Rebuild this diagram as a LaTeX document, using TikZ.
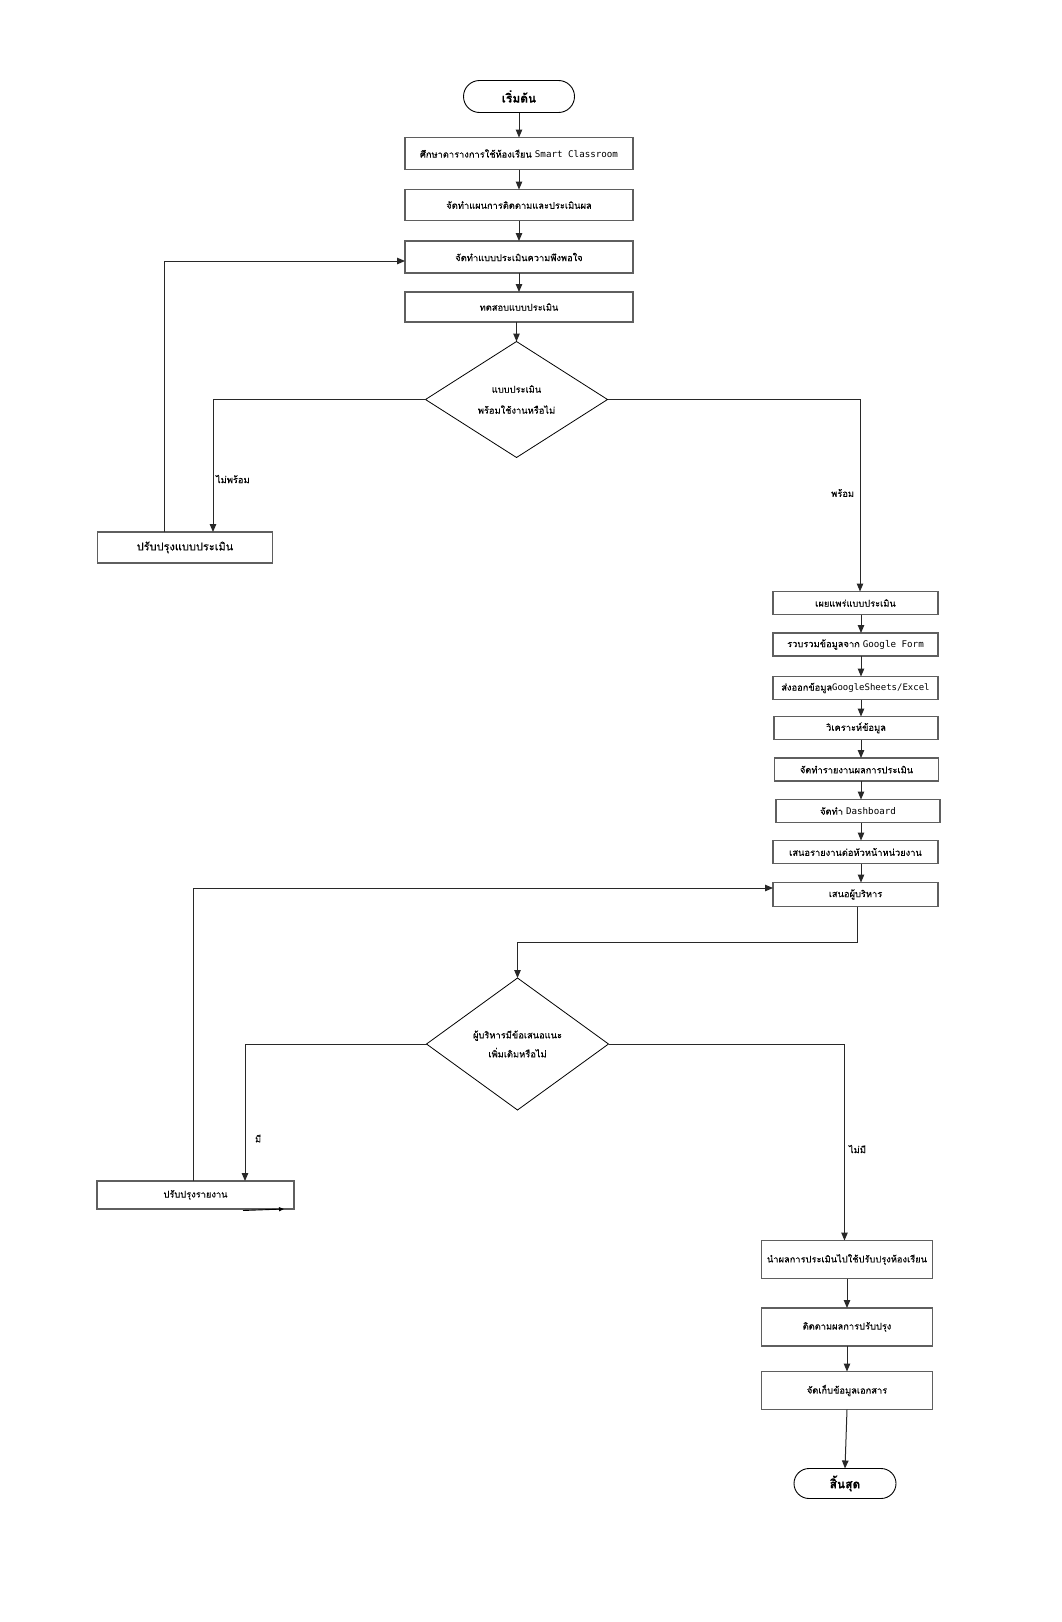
\documentclass[tikz,border=0pt]{standalone}
\usepackage{fontspec}
\setmainfont[Script=Thai,FakeBold=0.12]{Loma}
\newfontfamily\mono{DejaVu Sans Mono}
\usetikzlibrary{shapes.geometric,shapes.misc,arrows.meta}
\definecolor{boxgray}{RGB}{95,95,95}
\definecolor{linegray}{RGB}{40,40,40}
\newcommand{\fs}{\fontsize{9.3pt}{11pt}\selectfont}
\begin{document}
\begin{tikzpicture}[x=1pt,y=-1pt,
  every node/.style={inner sep=0pt,outer sep=0pt},
  pbox/.style n args={2}{draw=boxgray,line width=1.3pt,rectangle,minimum width=#1,minimum height=#2,font=\fs,text=black},
  term/.style n args={2}{draw=black,line width=0.9pt,rounded rectangle,minimum width=#1,minimum height=#2,font=\fontsize{12pt}{14pt}\selectfont\bfseries},
  dec/.style n args={2}{draw=black,line width=0.8pt,diamond,aspect=1.56,minimum width=#1,minimum height=#2,align=center},
  lbl/.style={font=\fs},
  arr/.style={draw=linegray,line width=1pt,-{Triangle[length=8pt,width=6.5pt]}}
]
\fill[white] (0,0) rectangle (1062,1622);
\useasboundingbox (0,0) rectangle (1062,1622);

% top column
\node[term={111}{32}] (start) at (519,96.5) {เริ่มต้น};
\node[pbox={228}{32}] (b1) at (519,153.5) {ศึกษาตารางการใช้ห้องเรียน {\mono\fontsize{9.2pt}{11pt}\selectfont Smart Classroom}};
\node[pbox={228}{31}] (b2) at (519,205) {จัดทำแผนการติดตามและประเมินผล};
\node[pbox={228}{32}] (b3) at (519,257) {จัดทำแบบประเมินความพึงพอใจ};
\node[pbox={228}{30}] (b4) at (519,307) {ทดสอบแบบประเมิน};
\node[dec={182}{116}, font=\fontsize{9.3pt}{21pt}\selectfont] (d1) at (516.5,399.5) {แบบประเมิน\\พร้อมใช้งานหรือไม่};

% left branch 1
\node[pbox={175}{31}, font=\fontsize{11pt}{13pt}\selectfont] (fix1) at (185,547.5) {ปรับปรุงแบบประเมิน};
\coordinate (L1) at (213,399.5);
\coordinate (L2) at (164,261);
\node[lbl,anchor=west] (lab1) at (216,479) {ไม่พร้อม};

% right column
\coordinate (R1) at (860,399.5);
\node[lbl,anchor=east] (lab2) at (854,493) {พร้อม};
\node[pbox={165}{23}] (r1) at (855.5,603) {เผยแพร่แบบประเมิน};
\node[pbox={165}{23}] (r2) at (855.5,644.5) {รวบรวมข้อมูลจาก {\mono\fontsize{9.2pt}{11pt}\selectfont Google Form}};
\node[pbox={165}{23}] (r3) at (855.5,688) {ส่งออกข้อมูล{\mono\fontsize{9pt}{11pt}\selectfont GoogleSheets/Excel}};
\node[pbox={164}{23}] (r4) at (856,728) {วิเคราะห์ข้อมูล};
\node[pbox={164}{23}] (r5) at (856.5,769.5) {จัดทำรายงานผลการประเมิน};
\node[pbox={164}{23}] (r6) at (858,811) {จัดทำ {\mono\fontsize{9.2pt}{11pt}\selectfont Dashboard}};
\node[pbox={165}{23}] (r7) at (855.5,852) {เสนอรายงานต่อหัวหน้าหน่วยงาน};
\node[pbox={165}{24}] (r8) at (855.5,894.5) {เสนอผู้บริหาร};
\coordinate (RX) at (861,0);

% second decision
\coordinate (M1) at (857,942);
\node[dec={182}{132}, font=\fontsize{9.3pt}{19pt}\selectfont] (d2) at (517.5,1044) {ผู้บริหารมีข้อเสนอแนะ\\เพิ่มเติมหรือไม่};
\node[pbox={197}{28}] (fix2) at (195.5,1195) {ปรับปรุงรายงาน};
\coordinate (L3) at (245,1044);
\coordinate (L4) at (193.5,888);
\node[lbl,anchor=west] (lab3) at (255,1138.5) {มี};
\coordinate (R2) at (844.5,1044);
\node[lbl,anchor=west] (lab4) at (849,1149) {ไม่มี};

% bottom column
\node[pbox={171}{38}] (f1) at (847,1259.5) {นำผลการประเมินไปใช้ปรับปรุงห้องเรียน};
\node[pbox={171}{38}] (f2) at (847,1327) {ติดตามผลการปรับปรุง};
\node[pbox={171}{38}] (f3) at (847,1390.5) {จัดเก็บข้อมูลเอกสาร};
\node[term={102}{30}] (stop) at (845,1483.5) {สิ้นสุด};

% connectors
\draw[arr] (start.south -| b1.north) -- (b1.north);
\draw[arr] (b1.south) -- (b2.north);
\draw[arr] (b2.south) -- (b3.north);
\draw[arr] (b3.south) -- (b4.north);
\draw[arr] (b4.south -| d1.north) -- (d1.north);
\draw[arr] (d1.west) -- (L1) -- (L1 |- fix1.north);
\draw[arr] (L2 |- fix1.north) -- (L2) -- (L2 -| b3.west);
\draw[arr] (d1.east) -- (R1) -- (R1 |- r1.north);
\draw[arr] (r1.south -| RX) -- (r2.north -| RX);
\draw[arr] (r2.south -| RX) -- (r3.north -| RX);
\draw[arr] (r3.south -| RX) -- (r4.north -| RX);
\draw[arr] (r4.south -| RX) -- (r5.north -| RX);
\draw[arr] (r5.south -| RX) -- (r6.north -| RX);
\draw[arr] (r6.south -| RX) -- (r7.north -| RX);
\draw[arr] (r7.south -| RX) -- (r8.north -| RX);
\draw[arr] (r8.south -| M1) -- (M1) -- (M1 -| d2.north) -- (d2.north);
\draw[arr] (d2.west) -- (L3) -- (L3 |- fix2.north);
\draw[arr] (L4 |- fix2.north) -- (L4) -- (L4 -| r8.west);
\draw[arr] (d2.east) -- (R2) -- (R2 |- f1.north);
\draw[arr] (f1.south) -- (f2.north);
\draw[arr] (f2.south) -- (f3.north);
\draw[arr] (f3.south) -- (stop.north);

% stray arrow fragment under the report box
\coordinate (S1) at (243,1210.5);
\coordinate (S2) at (284,1209);
\draw[draw=black,line width=0.9pt,-{Triangle[length=5pt,width=4pt]}] (S1) -- (S2);
\end{tikzpicture}
\end{document}
